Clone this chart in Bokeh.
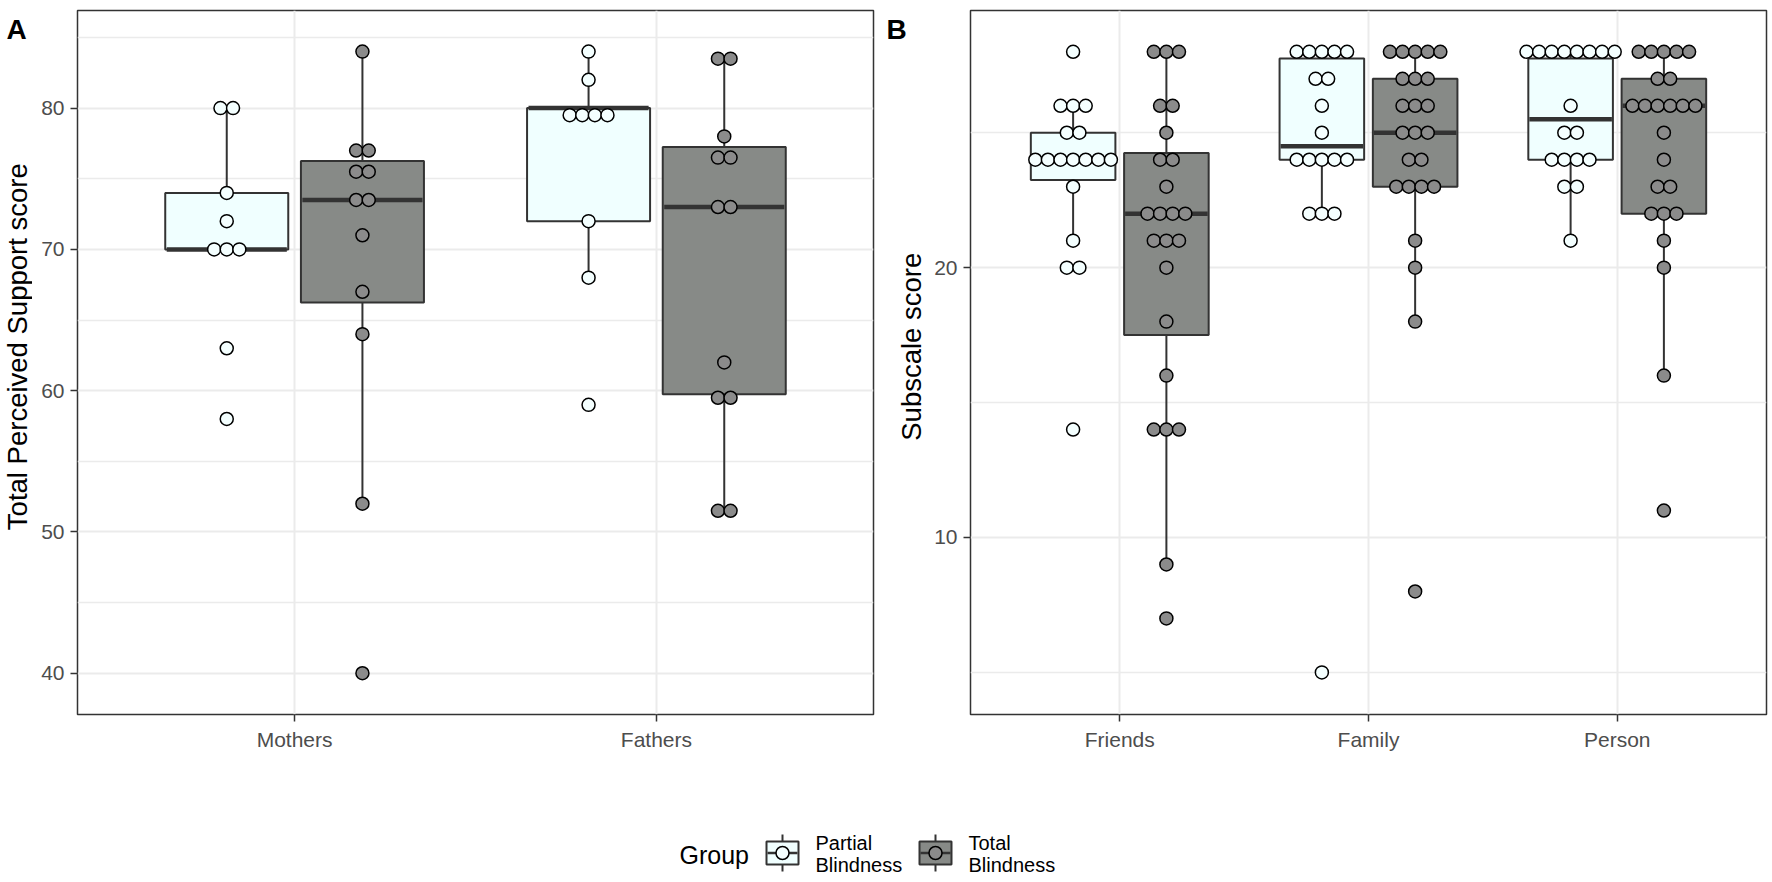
import math
from bokeh.plotting import figure
from bokeh.layouts import column, row
from bokeh.models import Range1d, FixedTicker
from bokeh.core.properties import value
from bokeh.embed import file_html
from bokeh.resources import INLINE

# ---------------- data ----------------
a_categories = ["Mothers", "Fathers"]
b_categories = ["Friends", "Family", "Person"]
a_ylabel = "Total Perceived Support score"
b_ylabel = "Subscale score"
legend_title = "Group"
group_labels = [["Partial", "Blindness"], ["Total", "Blindness"]]

# Panel A: individual scores (dot plot)
a_partial_mothers = [80, 80, 74, 72, 70, 70, 70, 63, 58]
a_partial_fathers = [84, 82, 79.5, 79.5, 79.5, 79.5, 72, 68, 59]
a_total_mothers = [84, 77, 77, 75.5, 75.5, 73.5, 73.5, 71, 67, 64, 52, 40]
a_total_fathers = [83.5, 83.5, 78, 76.5, 76.5, 73, 73, 62, 59.5, 59.5, 51.5, 51.5]

# Panel A box statistics per category (Mothers, Fathers)
a_partial_lo = [70, 68]
a_partial_q1 = [70, 72]
a_partial_med = [70, 80]
a_partial_q3 = [74, 80]
a_partial_hi = [80, 84]
a_total_lo = [52, 51.5]
a_total_q1 = [66.25, 59.75]
a_total_med = [73.5, 73]
a_total_q3 = [76.25, 77.25]
a_total_hi = [84, 83.5]

# Panel B: individual subscale scores
b_partial_friends = [28, 26, 26, 26, 25, 25, 24, 24, 24, 24, 24, 24, 24, 23, 21, 20, 20, 14]
b_partial_family = [28, 28, 28, 28, 28, 27, 27, 26, 25, 24, 24, 24, 24, 24, 22, 22, 22, 5]
b_partial_person = [28, 28, 28, 28, 28, 28, 28, 28, 26, 25, 25, 24, 24, 24, 24, 23, 23, 21]
b_total_friends = [28, 28, 28, 26, 26, 25, 24, 24, 23, 22, 22, 22, 22, 21, 21, 21, 20, 18,
                   16, 14, 14, 14, 9, 7]
b_total_family = [28, 28, 28, 28, 28, 27, 27, 27, 26, 26, 26, 25, 25, 25, 24, 24, 23, 23,
                  23, 23, 21, 20, 18, 8]
b_total_person = [28, 28, 28, 28, 28, 27, 27, 26, 26, 26, 26, 26, 26, 25, 24, 23, 23, 22,
                  22, 22, 21, 20, 16, 11]

# Panel B box statistics per category (Friends, Family, Person)
b_partial_lo = [21, 22, 21]
b_partial_q1 = [23.25, 24, 24]
b_partial_med = [24, 24.5, 25.5]
b_partial_q3 = [25, 27.75, 27.75]
b_partial_hi = [26, 28, 28]
b_total_lo = [9, 18, 16]
b_total_q1 = [17.5, 23, 22]
b_total_med = [22, 25, 26]
b_total_q3 = [24.25, 27, 27]
b_total_hi = [28, 28, 28]

a_ticks = [40, 50, 60, 70, 80]
a_minor = [45, 55, 65, 75, 85]
b_ticks = [10, 20]
b_minor = [5, 15, 25]

# ---------------- style / layout ----------------
FONT = "Liberation Sans"
PARTIAL_FILL = "#F0FFFF"
TOTAL_FILL = "#878A87"
PARTIAL_DOT = "#F4FFFF"
TOTAL_DOT = "#8B8B8B"
DARK = "#333333"
GRID = "#EBEBEB"
DOT_PX = 12.6
DODGE = 0.1875
BOX_W = 0.34
FRAME_W = 796
FRAME_H = 704
TOP_BORDER = 10
BOTTOM_BORDER = 44
PANEL_H = TOP_BORDER + FRAME_H + BOTTOM_BORDER
ROOT_X, ROOT_Y = 0, 0
LEG_H = 123


def stack_dots(values, center, step):
    xs, ys = [], []
    for v in sorted(set(values)):
        n = values.count(v)
        for i in range(n):
            xs.append(center + (i - (n - 1) / 2) * step)
            ys.append(v)
    return xs, ys


def strip(x_left, width, y_top, height):
    """A borderless figure whose data coordinates are page pixels."""
    s = figure(width=width, height=height, x_range=Range1d(x_left, x_left + width),
               y_range=Range1d(y_top + height, y_top), x_axis_location=None,
               y_axis_location=None, min_border=0, min_border_left=0, min_border_right=0,
               min_border_top=0, min_border_bottom=0, toolbar_location=None,
               output_backend="svg", outline_line_color=None)
    s.xgrid.visible = False
    s.ygrid.visible = False
    return s


def make_panel(cats, yrange, ticks, minor, width, left, right, boxes, dots):
    x0, x1 = 0.4, len(cats) + 0.6
    p = figure(width=width, height=PANEL_H, x_range=Range1d(x0, x1), y_range=Range1d(*yrange),
               min_border_left=left, min_border_right=right, min_border_top=TOP_BORDER,
               min_border_bottom=BOTTOM_BORDER, toolbar_location=None, output_backend="svg",
               background_fill_color="white", border_fill_color="white")
    ppu_x = FRAME_W / (x1 - x0)
    step = DOT_PX / ppu_x
    xpos = list(range(1, len(cats) + 1))

    for (lo, q1, med, q3, hi, off, fill) in boxes:
        xs = [x + off for x in xpos]
        p.segment(x0=xs, y0=lo, x1=xs, y1=q1, line_color=DARK, line_width=2)
        p.segment(x0=xs, y0=q3, x1=xs, y1=hi, line_color=DARK, line_width=2)
        p.vbar(x=xs, width=BOX_W, bottom=q1, top=q3, fill_color=fill,
               line_color=DARK, line_width=2)
        p.segment(x0=[x - BOX_W / 2 + 0.004 for x in xs], y0=med,
                  x1=[x + BOX_W / 2 - 0.004 for x in xs], y1=med,
                  line_color=DARK, line_width=4.5)
    for (vals_per_cat, off, fill) in dots:
        for x, vals in zip(xpos, vals_per_cat):
            dx, dy = stack_dots(vals, x + off, step)
            p.scatter(dx, dy, size=13, marker="circle", fill_color=fill,
                      line_color="black", line_width=1.5)

    p.xaxis.ticker = FixedTicker(ticks=xpos)
    p.xaxis.major_label_overrides = {x: c for x, c in zip(xpos, cats)}
    p.yaxis.ticker = FixedTicker(ticks=ticks, minor_ticks=minor)
    p.xgrid.ticker = FixedTicker(ticks=xpos)
    p.ygrid.ticker = FixedTicker(ticks=ticks, minor_ticks=minor)
    p.xgrid.grid_line_color = GRID
    p.ygrid.grid_line_color = GRID
    p.xgrid.grid_line_width = 2
    p.ygrid.grid_line_width = 2
    p.ygrid.minor_grid_line_color = GRID
    p.ygrid.minor_grid_line_width = 1.3
    p.outline_line_color = DARK
    p.outline_line_width = 1.5
    for ax in (p.xaxis[0], p.yaxis[0]):
        ax.axis_line_color = None
        ax.major_tick_line_color = DARK
        ax.major_tick_line_width = 1.5
        ax.major_tick_out = 7
        ax.major_tick_in = 0
        ax.minor_tick_line_color = None
        ax.major_label_text_font = FONT
        ax.major_label_text_font_size = "21px"
        ax.major_label_text_color = "#4D4D4D"
        ax.major_label_standoff = 6
    return p


def side_strip(x_left, width, tag, tag_x, ylabel, ylabel_x):
    s = strip(x_left, width, ROOT_Y, PANEL_H)
    s.text(x=[tag_x], y=[ROOT_Y + 20.3], text=[tag], text_font=value(FONT),
           text_font_size=value("28px"), text_font_style="bold", text_baseline="middle",
           text_align="left", text_color="black")
    mid_y = ROOT_Y + TOP_BORDER + FRAME_H / 2
    s.text(x=[ylabel_x], y=[mid_y], text=[ylabel], angle=[math.pi / 2],
           text_font=value(FONT), text_font_size=value("27.5px"), text_baseline="middle",
           text_align="center", text_color="black")
    return s


# row: [tag/title strip A][panel A][tag/title strip B][panel B]
sA = side_strip(ROOT_X, 32, "A", 6, a_ylabel, 17)
pA = make_panel(
    a_categories, (37.08, 86.91), a_ticks, a_minor, 848, 45, 7,
    [(a_partial_lo, a_partial_q1, a_partial_med, a_partial_q3, a_partial_hi, -DODGE, PARTIAL_FILL),
     (a_total_lo, a_total_q1, a_total_med, a_total_q3, a_total_hi, DODGE, TOTAL_FILL)],
    [([a_partial_mothers, a_partial_fathers], -DODGE, PARTIAL_DOT),
     ([a_total_mothers, a_total_fathers], DODGE, TOTAL_DOT)])
sB = side_strip(ROOT_X + 880, 46, "B", 886, b_ylabel, 911)
pB = make_panel(
    b_categories, (3.44, 29.53), b_ticks, b_minor, 846, 44, 6,
    [(b_partial_lo, b_partial_q1, b_partial_med, b_partial_q3, b_partial_hi, -DODGE, PARTIAL_FILL),
     (b_total_lo, b_total_q1, b_total_med, b_total_q3, b_total_hi, DODGE, TOTAL_FILL)],
    [([b_partial_friends, b_partial_family, b_partial_person], -DODGE, PARTIAL_DOT),
     ([b_total_friends, b_total_family, b_total_person], DODGE, TOTAL_DOT)])

# ---------------- legend strip ----------------
pL = strip(ROOT_X, 1772, ROOT_Y + PANEL_H, LEG_H)
pL.text(x=[679], y=[854], text=[legend_title], text_font=value(FONT),
        text_font_size=value("25px"), text_baseline="middle", text_align="left",
        text_color="black")
key_left = [766, 919]
key_fill = [PARTIAL_FILL, TOTAL_FILL]
dot_fill = [PARTIAL_DOT, TOTAL_DOT]
for kl, kf, df, lab in zip(key_left, key_fill, dot_fill, group_labels):
    cx, cy = kl + 16, 852.5
    pL.segment(x0=[cx], y0=[cy - 18.5], x1=[cx], y1=[cy + 18.5], line_color=DARK, line_width=2)
    pL.quad(left=[kl], right=[kl + 32], top=[cy - 11.5], bottom=[cy + 11.5], fill_color=kf,
            line_color=DARK, line_width=2)
    pL.segment(x0=[kl + 1], y0=[cy], x1=[kl + 31], y1=[cy], line_color=DARK, line_width=2.5)
    pL.scatter([cx], [cy], size=13, marker="circle", fill_color=df, line_color="black",
               line_width=1.5)
    pL.text(x=[kl + 49, kl + 49], y=[842, 864.5], text=lab, text_font=value(FONT),
            text_font_size=value("20px"), text_baseline="middle", text_align="left",
            text_color="black")

layout = column(row(sA, pA, sB, pB, spacing=0), pL, spacing=0)
open("out.html", "w").write(file_html(layout, INLINE))
